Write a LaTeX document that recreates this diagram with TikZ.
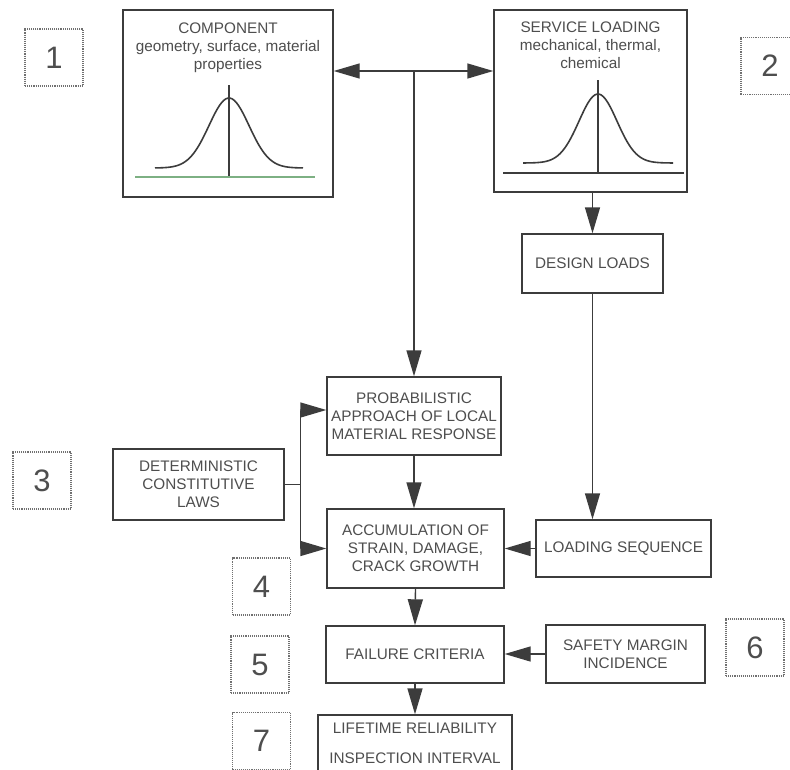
\documentclass[tikz,border=0pt]{standalone}
\usepackage{fontspec}
\setmainfont{Liberation Sans}
\usetikzlibrary{arrows.meta,positioning,calc}
\definecolor{linegray}{HTML}{3C3C3C}
\definecolor{textgray}{HTML}{4E4E4E}
\definecolor{dotgray}{HTML}{707070}
\definecolor{basegreen}{HTML}{7DB083}

\newcommand{\labelfont}{\fontsize{15.3}{18}\selectfont}
\newcommand{\numfont}{\fontsize{31}{32}\selectfont}

\tikzset{
  flowbox/.style={draw=linegray,line width=1.4pt,align=center,inner sep=1pt,
    text=textgray,font=\labelfont},
  numbox/.style={draw=dotgray,densely dotted,line width=1.1pt,minimum width=58pt,
    minimum height=57pt,inner sep=0pt,font=\numfont,text=textgray},
  arr/.style={draw=linegray,line width=1.4pt,
    -{Triangle[length=26pt,width=15pt]}},
  wire/.style={draw=linegray,line width=1.4pt},
  bell/.style={draw=linegray,line width=1.6pt}
}

\begin{document}
\begin{tikzpicture}[x=1pt,y=-1pt]
  \clip (0,0) rectangle (790,769);
  \fill[white] (0,0) rectangle (790,769);

  % top boxes with distributions
  \node[flowbox,minimum width=210pt,minimum height=187pt] (comp) at (228,103.5) {};
  \node[align=center,text=textgray,font=\labelfont,inner sep=0pt] (comptitle) at (228,48)
    {COMPONENT\\geometry, surface, material\\properties};
  \draw[bell] plot[domain=-74:74,samples=70,smooth] ({229+\x},{168-70*exp(-(\x*\x)/(2*20*20))});
  \draw[wire] (229,85) -- (229,177);
  \draw[basegreen,line width=1.4pt] (135,177) -- (315,177);

  \node[flowbox,minimum width=193pt,minimum height=182pt] (serv) at (590.5,101) {};
  \node[align=center,text=textgray,font=\labelfont,inner sep=0pt] (servtitle) at (590.5,45)
    {SERVICE LOADING\\mechanical, thermal,\\chemical};
  \draw[bell] plot[domain=-75:75,samples=70,smooth] ({598+\x},{163-69*exp(-(\x*\x)/(2*19*19))});
  \draw[wire] (598,80) -- (598,173);
  \draw[wire] (503,173) -- (684,173);

  % flow boxes
  \node[flowbox,minimum width=141pt,minimum height=59pt] (des) at (592.5,263.5) {DESIGN LOADS};
  \node[flowbox,minimum width=174pt,minimum height=78pt] (prob) at (414,416)
    {PROBABILISTIC\\APPROACH OF LOCAL\\MATERIAL RESPONSE};
  \node[flowbox,minimum width=171pt,minimum height=71pt] (det) at (198.5,484.5)
    {DETERMINISTIC\\CONSTITUTIVE\\LAWS};
  \node[flowbox,minimum width=177pt,minimum height=79pt] (accum) at (415.5,548.5)
    {ACCUMULATION OF\\STRAIN, DAMAGE,\\CRACK GROWTH};
  \node[flowbox,minimum width=175pt,minimum height=57pt] (seq) at (623.5,548.5) {LOADING SEQUENCE};
  \node[flowbox,minimum width=178pt,minimum height=57pt] (fail) at (415,654.5) {FAILURE CRITERIA};
  \node[flowbox,minimum width=159pt,minimum height=58pt] (safe) at (625.5,654)
    {SAFETY MARGIN\\INCIDENCE};
  \node[flowbox,minimum width=194pt,minimum height=56pt,
    font=\fontsize{15.3}{30}\selectfont] (life) at (415,743)
    {LIFETIME RELIABILITY\\INSPECTION INTERVAL};

  % numbered markers
  \node[numbox] (n1) at (54,57.5) {1};
  \node[numbox] (n2) at (770,66) {2};
  \node[numbox] (n3) at (42,480.5) {3};
  \node[numbox] (n4) at (261.5,586.5) {4};
  \node[numbox] (n5) at (260,664.5) {5};
  \node[numbox] (n6) at (755,647.5) {6};
  \node[numbox] (n7) at (261.5,741) {7};

  % connectors
  \coordinate (split) at (414,71);
  \draw[arr] (split) -- (split -| comp.east);
  \draw[arr] (split) -- (split -| serv.west);
  \draw[arr] (split) -- (prob.north);
  \draw[arr] (des.north |- serv.south) -- (des.north);
  \draw[arr] (des.south) -- (des.south |- seq.north);
  \coordinate (fork) at ($(det.east)+(16,0)$);
  \draw[wire] (det.east) -- (fork);
  \draw[arr] (fork) |- ($(prob.west)+(0,-6)$);
  \draw[arr] (fork) |- (accum.west);
  \draw[arr] (prob.south) -- (prob.south |- accum.north);
  \draw[arr] (seq.west) -- (accum.east);
  \draw[arr] (accum.south) -- (fail.north);
  \draw[arr] (safe.west) -- (safe.west -| fail.east);
  \draw[arr] (fail.south) -- (life.north);
\end{tikzpicture}
\end{document}
